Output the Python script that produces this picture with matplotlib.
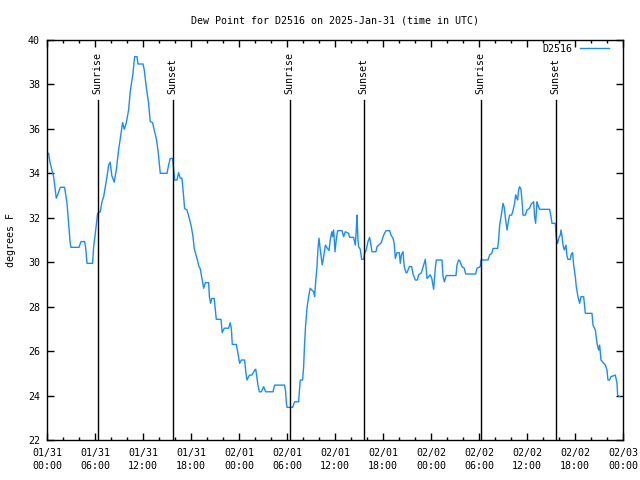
import matplotlib
matplotlib.use("Agg")
import matplotlib.pyplot as plt
from matplotlib.ticker import MultipleLocator

# ---------------------------
# Data (hours since 2025-01-31 00:00 UTC, dew point in F)
# ---------------------------
hours = [
    0.2, 0.4, 0.83, 1.16, 1.3, 1.66, 2.2, 2.5, 2.7, 2.9, 3.0, 4.0, 4.25, 4.7,
    4.83, 5.0, 5.7, 5.83, 6.04, 6.33, 6.66, 6.87, 7.08, 7.33, 7.5, 7.7, 7.9,
    8.1, 8.4, 8.66, 8.95, 9.16, 9.45, 9.66, 9.9, 10.2, 10.4, 10.75, 10.95,
    11.25, 11.37, 12.0, 12.16, 12.4, 12.7, 12.9, 13.2, 13.4, 13.66, 13.87,
    14.16, 15.0, 15.2, 15.4, 15.7, 15.83, 15.95, 16.25, 16.45, 16.66, 16.87,
    17.08, 17.2, 17.5, 17.79, 18.04, 18.25, 18.4, 18.8, 19.0, 19.16, 19.58,
    19.8, 20.2, 20.3, 20.45, 20.6, 20.9, 21.16, 21.75, 21.9, 22.16, 22.7,
    22.9, 23.04, 23.16, 23.66, 23.87, 24.08, 24.3, 24.7, 24.87, 25.0, 25.3,
    25.6, 26.04, 26.1, 26.37, 26.54, 26.8, 27.08, 27.33, 28.25, 28.45, 29.7,
    29.83, 29.91, 30.0, 30.7, 30.95, 31.45, 31.66, 31.95, 32.08, 32.2, 32.33,
    32.5, 32.7, 32.9, 33.1, 33.33, 33.45, 33.6, 33.75, 33.87, 34.0, 34.16,
    34.4, 34.58, 34.8, 35.0, 35.25, 35.4, 35.6, 35.7, 35.83, 36.0, 36.16,
    36.33, 36.87, 37.08, 37.29, 37.7, 37.83, 38.33, 38.54, 38.66, 38.75,
    38.87, 38.95, 39.16, 39.33, 39.58, 39.7, 39.9, 40.12, 40.33, 40.5, 40.62,
    41.12, 41.25, 41.54, 41.79, 42.08, 42.37, 42.83, 43.0, 43.25, 43.4,
    43.54, 43.75, 44.04, 44.16, 44.3, 44.5, 44.66, 44.87, 45.0, 45.3, 45.58,
    45.75, 46.04, 46.3, 46.45, 46.8, 47.08, 47.29, 47.5, 47.9, 48.1, 48.33,
    48.54, 48.66, 49.37, 49.5, 49.66, 49.91, 51.12, 51.25, 51.45, 51.62,
    51.87, 52.16, 52.33, 53.58, 53.75, 54.16, 54.25, 55.12, 55.33, 55.6,
    55.75, 56.33, 56.45, 56.58, 56.79, 57.0, 57.16, 57.33, 57.5, 57.7, 57.83,
    58.08, 58.25, 58.45, 58.58, 58.7, 58.83, 58.95, 59.08, 59.25, 59.37,
    59.5, 59.79, 60.0, 60.3, 60.54, 60.83, 60.95, 61.08, 61.25, 61.37, 61.58,
    62.83, 63.0, 63.12, 63.54, 63.66, 63.83, 64.0, 64.16, 64.25, 64.37, 64.5,
    64.66, 64.87, 65.0, 65.12, 65.41, 65.54, 65.7, 65.83, 66.04, 66.16,
    66.37, 66.58, 66.75, 67.08, 67.29, 68.12, 68.25, 68.54, 68.75, 68.95,
    69.08, 69.25, 69.79, 70.0, 70.12, 70.33, 70.5, 71.04, 71.25, 71.33, 71.58,
]
dewpoint = [
    34.9, 34.45, 33.85, 32.88, 33.0, 33.37, 33.37, 32.65, 31.75, 30.85, 30.67,
    30.67, 30.93, 30.93, 30.67, 29.95, 29.95, 30.7, 31.3, 32.2, 32.27, 32.72,
    32.95, 33.47, 33.85, 34.37, 34.5, 33.9, 33.6, 34.15, 35.05, 35.57, 36.28,
    35.98, 36.25, 36.85, 37.67, 38.5, 39.25, 39.25, 38.92, 38.92, 38.65, 37.9,
    37.15, 36.33, 36.28, 35.95, 35.57, 35.05, 34.0, 34.0, 34.37, 34.67, 34.67,
    34.15, 33.7, 33.7, 34.03, 33.78, 33.78, 32.95, 32.42, 32.35, 31.97, 31.6,
    31.15, 30.62, 30.1, 29.8, 29.7, 28.83, 29.08, 29.08, 28.45, 28.15, 28.37,
    28.37, 27.43, 27.43, 26.83, 27.03, 27.03, 27.28, 27.03, 26.3, 26.3, 25.9,
    25.45, 25.6, 25.6, 25.0, 24.7, 24.92, 24.92, 25.18, 25.18, 24.47, 24.17,
    24.17, 24.4, 24.17, 24.17, 24.47, 24.47, 24.17, 23.72, 23.47, 23.47,
    23.72, 23.72, 24.7, 24.7, 25.3, 26.35, 27.18, 27.93, 28.45, 28.83, 28.75,
    28.67, 28.45, 29.2, 29.8, 30.62, 31.08, 30.55, 29.88, 30.25, 30.77, 30.65,
    30.52, 31.0, 31.37, 31.15, 31.45, 30.47, 31.03, 31.42, 31.42, 31.15,
    31.37, 31.3, 31.12, 31.12, 30.77, 31.45, 32.12, 31.0, 30.7, 30.58, 30.13,
    30.13, 30.4, 30.55, 30.93, 31.12, 30.77, 30.47, 30.47, 30.7, 30.8, 30.88,
    31.22, 31.42, 31.42, 31.22, 31.08, 30.85, 30.17, 30.43, 30.43, 29.95,
    30.33, 30.47, 29.8, 29.53, 29.53, 29.8, 29.8, 29.47, 29.2, 29.2, 29.43,
    29.53, 29.88, 30.13, 29.27, 29.43, 29.27, 28.78, 29.73, 30.1, 30.1, 29.38,
    29.12, 29.4, 29.4, 29.88, 30.1, 30.05, 29.8, 29.73, 29.47, 29.47, 29.73,
    29.8, 30.1, 30.1, 30.33, 30.4, 30.62, 30.62, 31.0, 31.67, 32.12, 32.65,
    32.45, 31.9, 31.45, 31.9, 32.12, 32.12, 32.32, 32.65, 33.03, 32.9, 32.8,
    33.25, 33.4, 33.27, 32.8, 32.12, 32.12, 32.35, 32.42, 32.62, 32.72, 32.05,
    31.75, 32.72, 32.57, 32.38, 32.38, 32.05, 31.75, 31.75, 31.08, 30.85,
    31.12, 31.22, 31.45, 31.2, 30.77, 30.55, 30.77, 30.28, 30.13, 30.13, 30.37,
    30.43, 29.88, 29.35, 28.9, 28.45, 28.15, 28.45, 28.45, 27.7, 27.7, 27.17,
    26.95, 26.35, 26.05, 26.27, 25.6, 25.37, 25.15, 24.7, 24.7, 24.85, 24.92,
    24.55, 24.02, 23.95,
]

sunrise_hours = [6.33, 30.33, 54.2]
sunset_hours = [15.72, 39.58, 63.58]

tick_hours = list(range(0, 73, 6))
tick_labels = [
    "01/31\n00:00", "01/31\n06:00", "01/31\n12:00", "01/31\n18:00",
    "02/01\n00:00", "02/01\n06:00", "02/01\n12:00", "02/01\n18:00",
    "02/02\n00:00", "02/02\n06:00", "02/02\n12:00", "02/02\n18:00",
    "02/03\n00:00",
]

plt.rcParams['font.family'] = ['DejaVu Sans Mono']
plt.rcParams['font.size'] = 7.2

fig = plt.figure(figsize=(6.4, 4.8), dpi=100)
ax = fig.add_axes([47 / 640, 40 / 480, 576 / 640, 400 / 480])

ax.plot(hours, dewpoint, color='#1a8cff', linewidth=1.0, label='D2516')

# sunrise / sunset markers
for h in sunrise_hours:
    ax.axvline(h, ymin=0, ymax=0.85, color='black', linewidth=1.0)
    ax.text(h, 0.865, "Sunrise", rotation=90, ha='center', va='bottom',
            transform=ax.get_xaxis_transform())
for h in sunset_hours:
    ax.axvline(h, ymin=0, ymax=0.85, color='black', linewidth=1.0)
    ax.text(h, 0.865, "Sunset", rotation=90, ha='center', va='bottom',
            transform=ax.get_xaxis_transform())

ax.set_xlim(0, 72)
ax.set_ylim(22, 40)
ax.set_xticks(tick_hours)
ax.set_xticklabels(tick_labels, linespacing=1.35)
ax.xaxis.set_minor_locator(MultipleLocator(2))
ax.yaxis.set_major_locator(MultipleLocator(2))

ax.tick_params(which='both', direction='in', top=True, right=True,
               width=1.0, colors='black')
ax.tick_params(which='major', length=5, pad=5)
ax.tick_params(axis='x', which='major', pad=6)
ax.tick_params(which='minor', length=2.5)
for s in ax.spines.values():
    s.set_linewidth(1.0)

ax.set_ylabel("degrees F", labelpad=9)
ax.set_title("Dew Point for D2516 on 2025-Jan-31 (time in UTC)",
             fontsize=7.2, pad=12)

ax.legend(loc='upper right', bbox_to_anchor=(1 - 10 / 576, 1),
          frameon=False, markerfirst=False,
          handlelength=2.9, borderaxespad=0.1, borderpad=0.3,
          handletextpad=0.8)

fig.savefig("out.png", dpi=100)
